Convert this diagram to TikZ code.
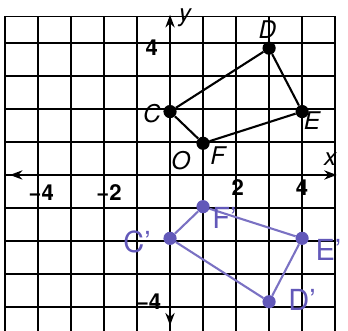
\documentclass[tikz,border=0pt]{standalone}
\usepackage{fontspec}
\setmainfont{TeX Gyre Heros}
\usetikzlibrary{arrows.meta}

\definecolor{penpurple}{RGB}{98,88,185}

\begin{document}
\begin{tikzpicture}[x=1cm, y=0.96cm,
    gridline/.style={line width=1.1pt},
    axis/.style={{Stealth[length=3.8mm,width=2.8mm]}-{Stealth[length=3.8mm,width=2.8mm]}, line width=1.8pt},
    dot/.style={circle, fill=black, inner sep=0pt, minimum size=4mm},
    pdot/.style={circle, fill=penpurple, inner sep=0pt, minimum size=4mm},
    side/.style={line width=1.8pt},
    pside/.style={line width=1.8pt, draw=penpurple!85},
    lbl/.style={font=\fontsize{21}{24}\selectfont\itshape},
    ticklbl/.style={font=\fontsize{19}{22}\selectfont\bfseries},
    plbl/.style={text=penpurple, font=\fontsize{25}{28}\selectfont}
  ]
    \useasboundingbox (-5.15,-4.92) rectangle (5.39,5.52);

    % grid and frame
    \draw[gridline] (-5,-5) grid (5,5);
    \draw[line width=1.4pt] (-5,-5) rectangle (5,5);

    % axes
    \coordinate (xl) at (-4.85,0);
    \coordinate (xr) at (5.05,0);
    \coordinate (yt) at (0,5.05);
    \coordinate (yb) at (0,-4.75);
    \draw[axis] (xl) -- (xr);
    \draw[axis] (yb) -- (yt);
    \node[lbl] (xlab) at (4.85,0.5) {x};
    \node[lbl] (ylab) at (0.45,4.95) {y};
    \node[lbl] (olab) at (0.33,0.45) {O};

    \node[ticklbl] (tm4) at (-3.9,-0.55) {−4};
    \node[ticklbl] (tm2) at (-1.85,-0.55) {−2};
    \node[ticklbl] (tp2) at (2.05,-0.4) {2};
    \node[ticklbl] (tp4) at (4.0,-0.4) {4};
    \node[ticklbl] (ty4) at (-0.55,4.0) {4};
    \node[ticklbl] (tym4) at (-0.65,-4.0) {−4};

    % figure CDEF
    \node[dot] (c) at (0,2) {};
    \node[dot] (d) at (3,4) {};
    \node[dot] (e) at (4,2) {};
    \node[dot] (f) at (1,1) {};
    \draw[side] (c) -- (d) -- (e) -- (f) -- (c);
    \node[lbl] (clab) at (-0.55,1.95) {C};
    \node[lbl] (dlab) at (2.95,4.6) {D};
    \node[lbl] (elab) at (4.3,1.7) {E};
    \node[lbl] (flab) at (1.45,0.6) {F};

    % image C'D'E'F'
    \node[pdot] (cp) at (0,-2) {};
    \node[pdot] (dp) at (3,-4) {};
    \node[pdot] (ep) at (4,-2) {};
    \node[pdot] (fp) at (1,-1) {};
    \draw[pside] (cp) -- (fp) -- (ep) -- (dp) -- (cp);
    \node[plbl] (cplab) at (-1.0,-2.1) {C'};
    \node[plbl] (fplab) at (1.65,-1.35) {F'};
    \node[plbl] (eplab) at (4.8,-2.35) {E'};
    \node[plbl] (dplab) at (4.0,-3.95) {D'};
\end{tikzpicture}
\end{document}
